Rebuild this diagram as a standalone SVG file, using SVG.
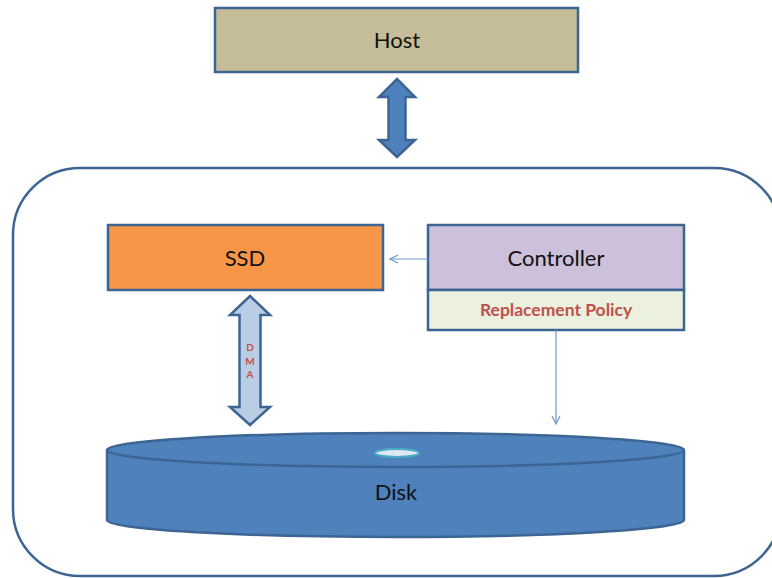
<svg xmlns="http://www.w3.org/2000/svg" width="772" height="578" viewBox="0 0 772 578">
<style>
.box{stroke:#3d6594;stroke-width:2.5}
.lbl{font-family:Lato,"Liberation Sans",sans-serif;font-size:22px;fill:#111;text-anchor:middle}
.red{font-family:Lato,"Liberation Sans",sans-serif;font-weight:bold;fill:#c0504d;text-anchor:middle}
.conn{stroke:#6f97cc;stroke-width:1.2;fill:none}
</style>
<defs>
<marker id="open" viewBox="0 0 10 10" refX="9" refY="5" markerWidth="10" markerHeight="10" markerUnits="userSpaceOnUse" orient="auto">
<path d="M1,1 L9,5 L1,9" fill="none" stroke="#6f97cc" stroke-width="1.2"/>
</marker>
</defs>
<rect width="772" height="578" fill="#fff"/>
<g id="system">
<rect x="13" y="168" width="768" height="408" rx="67" ry="67" fill="none" stroke="#3d6594" stroke-width="2.5"/>
</g>
<g id="host">
<rect class="box" x="215" y="8" width="363" height="64" fill="#c4bd97"/>
<text class="lbl" x="397" y="48">Host</text>
</g>
<g id="ssd">
<rect class="box" x="108" y="225" width="275" height="65" fill="#f79646"/>
<text class="lbl" x="245" y="266">SSD</text>
</g>
<g id="controller">
<rect class="box" x="428" y="225" width="256" height="65" fill="#ccc0da"/>
<text class="lbl" x="556" y="266">Controller</text>
</g>
<g id="policy">
<rect class="box" x="428" y="290" width="256" height="40" fill="#ebf1de"/>
<text class="red" x="556" y="316" font-size="17.5">Replacement Policy</text>
</g>
<g id="disk">
<path d="M107,450 L107,520 A288.5,17 0 0 0 684,520 L684,450" fill="#4f81bd" stroke="#3d6594" stroke-width="2.5"/>
<ellipse cx="395.5" cy="450" rx="288.5" ry="17" fill="#4f81bd" stroke="#3d6594" stroke-width="2.5"/>
<ellipse cx="397" cy="453" rx="22" ry="4" fill="#dce8f4" stroke="#4bacc6" stroke-width="2"/>
<text class="lbl" x="396" y="500">Disk</text>
</g>
<g id="connectors">
<polygon points="397,79 415,97 405.5,97 405.5,140 415,140 397,157 379,140 388.5,140 388.5,97 379,97" fill="#4f81bd" stroke="#3d6594" stroke-width="2.5" stroke-linejoin="miter"/>
<polygon points="250,296 270,315 260.5,315 260.5,407 270,407 250,425 230,407 239.5,407 239.5,315 230,315" fill="#b9cde5" stroke="#3d6594" stroke-width="2.5"/>
<text class="red" font-size="10" x="250" y="351" fill="#b0504d">D</text>
<text class="red" font-size="10" x="250" y="365">M</text>
<text class="red" font-size="10" x="250" y="378">A</text>
<line class="conn" x1="428" y1="259" x2="390" y2="259" marker-end="url(#open)"/>
<line class="conn" x1="556" y1="330" x2="556" y2="424" marker-end="url(#open)"/>
</g>
</svg>
